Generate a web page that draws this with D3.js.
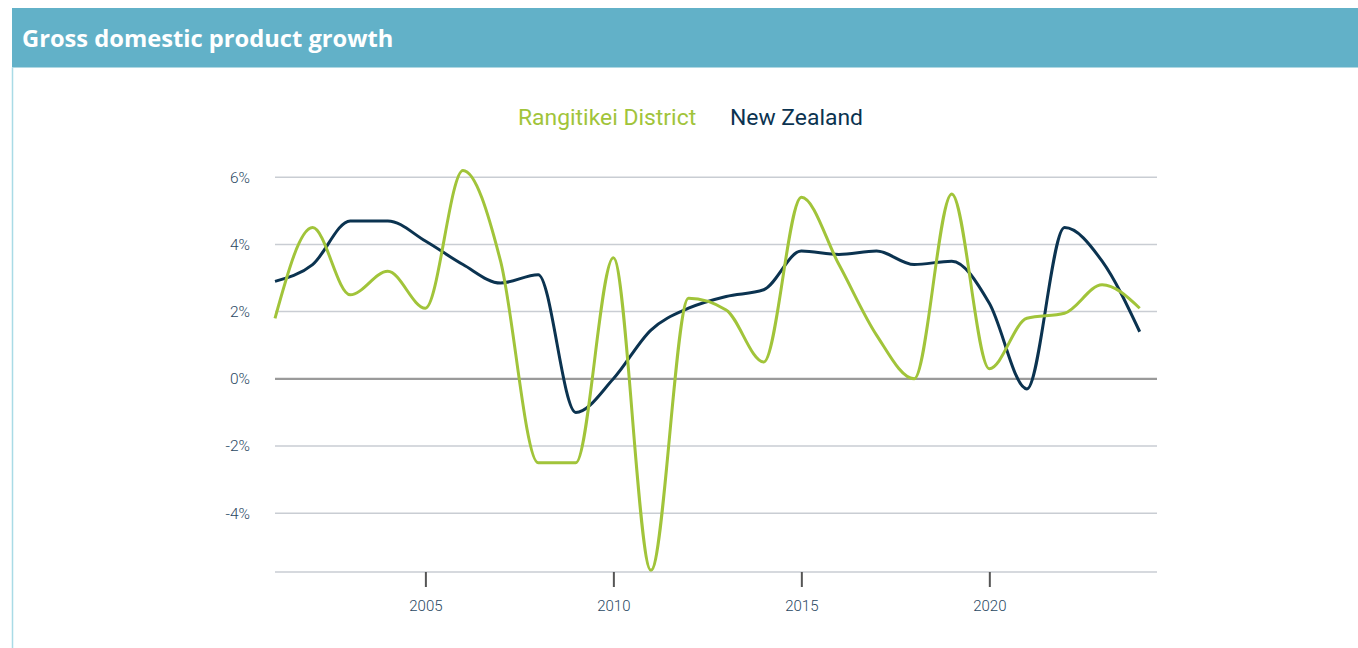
<!DOCTYPE html>
<html>
<head>
<meta charset="utf-8">
<script src="https://cdn.jsdelivr.net/npm/d3@7"></script>
<style>
  html, body { margin: 0; padding: 0; background: #fff; }
  svg { display: block; }
</style>
</head>
<body>
<svg id="chart" width="1358" height="648"></svg>
<script>
const title = "Gross domestic product growth";
const years = [2001,2002,2003,2004,2005,2006,2007,2008,2009,2010,2011,2012,2013,2014,2015,2016,2017,2018,2019,2020,2021,2022,2023,2024];
const rangitikei = [1.8,4.5,2.5,3.2,2.1,6.2,3.5,-2.5,-2.5,3.6,-5.7,2.4,2.05,0.5,5.4,3.4,1.3,0.0,5.5,0.3,1.8,1.95,2.8,2.1];
const newZealand = [2.9,3.4,4.7,4.7,4.1,3.4,2.85,3.1,-1.0,0.0,1.45,2.1,2.45,2.65,3.8,3.7,3.8,3.4,3.5,2.25,-0.3,4.5,3.5,1.4];
const seriesNames = ["Rangitikei District","New Zealand"];
const seriesColors = ["#a1c43a","#0b3350"];
const yTicks = [-4,-2,0,2,4,6];
const xTicks = [2005,2010,2015,2020];

const svg = d3.select("#chart");

// header band
svg.append("rect").attr("x",12).attr("y",8).attr("width",1346).attr("height",59.5).attr("fill","#62b1c8");
svg.append("line").attr("x1",12.5).attr("x2",12.5).attr("y1",67.5).attr("y2",648).attr("stroke","#a9dbe6").attr("stroke-width",1.5);
svg.append("text").attr("x",22).attr("y",47).text(title)
  .attr("fill","#fff").attr("font-family","'Open Sans', sans-serif").attr("font-weight",700).attr("font-size",23.7);

// legend
const legend = svg.append("g").attr("font-family","Roboto, sans-serif").attr("font-size",22.9);
legend.append("text").attr("x",518).attr("y",125).attr("fill",seriesColors[0]).text(seriesNames[0]);
legend.append("text").attr("x",730).attr("y",125).attr("fill",seriesColors[1]).text(seriesNames[1]);

const x = d3.scaleLinear().domain([2001, 2024.46]).range([275, 1157]);
const y = d3.scaleLinear().domain([-5.75, 6.25]).range([572, 168.8]);

// gridlines
svg.append("g").selectAll("line").data(yTicks.filter(d=>d!==0)).join("line")
  .attr("x1",275).attr("x2",1157).attr("y1",d=>y(d)).attr("y2",d=>y(d))
  .attr("stroke","#c9cdd3").attr("stroke-width",1.5);
svg.append("line").attr("x1",275).attr("x2",1157).attr("y1",572).attr("y2",572)
  .attr("stroke","#c9cdd3").attr("stroke-width",1.5);
svg.append("line").attr("x1",275).attr("x2",1157).attr("y1",y(0)).attr("y2",y(0))
  .attr("stroke","#9a9a9a").attr("stroke-width",2.2);

// y axis labels
const yAxis = d3.axisLeft(y).tickValues(yTicks).tickSize(0).tickPadding(0).tickFormat(d=>d+"%");
const gy = svg.append("g").attr("transform","translate(250,0)").call(yAxis);
gy.select(".domain").remove();
gy.selectAll("text").attr("font-family","Roboto, sans-serif").attr("font-weight",300).attr("font-size",15.5).attr("fill","#2a4862");

// x axis
const xAxis = d3.axisBottom(x).tickValues(xTicks).tickSize(15).tickPadding(13).tickFormat(d3.format("d"));
const gx = svg.append("g").attr("transform","translate(0,572)").call(xAxis);
gx.select(".domain").remove();
gx.selectAll(".tick line").attr("stroke","#555").attr("stroke-width",2);
gx.selectAll("text").attr("font-family","Roboto, sans-serif").attr("font-weight",300).attr("font-size",15).attr("fill","#2a4862");

// lines
const line = d3.line().x((d,i)=>x(years[i])).y(d=>y(d)).curve(d3.curveMonotoneX);
svg.append("path").datum(newZealand).attr("d",line).attr("fill","none")
  .attr("stroke",seriesColors[1]).attr("stroke-width",3);
svg.append("path").datum(rangitikei).attr("d",line).attr("fill","none")
  .attr("stroke",seriesColors[0]).attr("stroke-width",3);
</script>
</body>
</html>
